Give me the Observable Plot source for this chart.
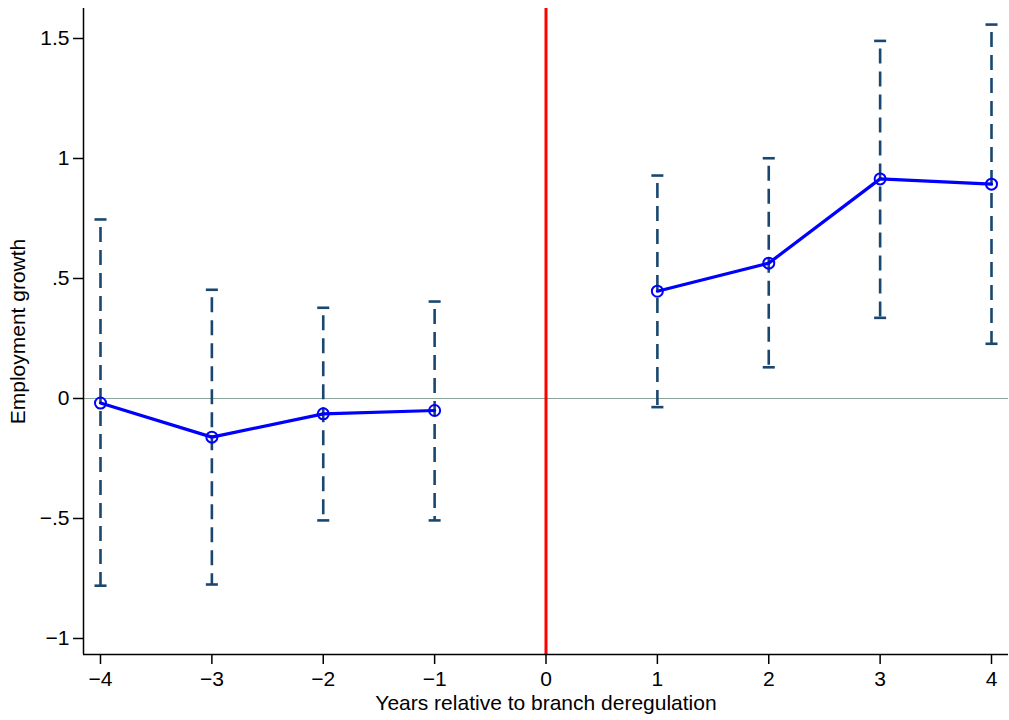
<!DOCTYPE html>
<html>
<head>
<meta charset="utf-8">
<script src="https://cdn.jsdelivr.net/npm/d3@7"></script>
<script src="https://cdn.jsdelivr.net/npm/@observablehq/plot@0.6"></script>
<style>
  html, body { margin: 0; padding: 0; background: #fff; }
  #chart svg { display: block; }
</style>
</head>
<body>
<div id="chart"></div>
<script>
const years = [-4, -3, -2, -1, 1, 2, 3, 4];
const estimates = [-0.019, -0.161, -0.064, -0.050, 0.447, 0.564, 0.915, 0.893];
const ciLow = [-0.780, -0.775, -0.508, -0.508, -0.036, 0.130, 0.336, 0.228];
const ciHigh = [0.746, 0.453, 0.378, 0.404, 0.929, 1.001, 1.490, 1.558];
const xTicks = [-4, -3, -2, -1, 0, 1, 2, 3, 4];
const yTicks = [1.5, 1, 0.5, 0, -0.5, -1];
const yTickLabels = ["1.5", "1", ".5", "0", "\u2212.5", "\u22121"];

const data = years.map((x, i) => ({x, y: estimates[i], lo: ciLow[i], hi: ciHigh[i]}));
const capHalf = 0.054;
const xDomain = [-4.1526, 4.1526];
const yDomain = [-1.0667, 1.625];
const xFmt = d => d < 0 ? "\u2212" + Math.abs(d) : String(d);

const chart = Plot.plot({
  width: 1009,
  height: 720,
  marginLeft: 83,
  marginRight: 1,
  marginTop: 8,
  marginBottom: 66,
  style: {fontFamily: "'Liberation Sans', Arial, sans-serif", fontSize: "21px", color: "#000", background: "#fff"},
  x: {domain: xDomain},
  y: {domain: yDomain},
  marks: [
    Plot.ruleY([0], {stroke: "#8ca59b", strokeWidth: 1.2}),
    Plot.ruleX([0], {stroke: "#ff0000", strokeWidth: 3}),
    Plot.ruleX(data, {x: "x", y1: "hi", y2: "lo", stroke: "#1a476f", strokeWidth: 2.6, strokeDasharray: "15,8", strokeDashoffset: 15}),
    Plot.link(data, {x1: d => d.x - capHalf, x2: d => d.x + capHalf, y1: "hi", y2: "hi", stroke: "#1a476f", strokeWidth: 2.6}),
    Plot.link(data, {x1: d => d.x - capHalf, x2: d => d.x + capHalf, y1: "lo", y2: "lo", stroke: "#1a476f", strokeWidth: 2.6}),
    Plot.line(data.filter(d => d.x < 0), {x: "x", y: "y", stroke: "#0000ff", strokeWidth: 3.2}),
    Plot.line(data.filter(d => d.x > 0), {x: "x", y: "y", stroke: "#0000ff", strokeWidth: 3.2}),
    Plot.dot(data, {x: "x", y: "y", r: 5.5, stroke: "#0000ff", strokeWidth: 2, fill: "none"}),
    Plot.ruleX([xDomain[0]], {stroke: "#000", strokeWidth: 1.5}),
    Plot.ruleY([yDomain[0]], {stroke: "#000", strokeWidth: 1.5}),
    Plot.axisX({ticks: xTicks, tickFormat: xFmt, tickSize: 10, tickPadding: 7, strokeWidth: 1.5, label: null}),
    Plot.axisY({ticks: yTicks, tickFormat: d => yTickLabels[yTicks.indexOf(d)], tickSize: 10, tickPadding: 4, strokeWidth: 1.5, label: null}),
    Plot.axisX({ticks: [], label: "Years relative to branch deregulation", labelAnchor: "center", labelOffset: 55, labelArrow: "none"}),
    Plot.axisY({ticks: [], label: "Employment growth", labelAnchor: "center", labelOffset: 73, labelArrow: "none"})
  ]
});
document.getElementById("chart").appendChild(chart);
</script>
</body>
</html>
